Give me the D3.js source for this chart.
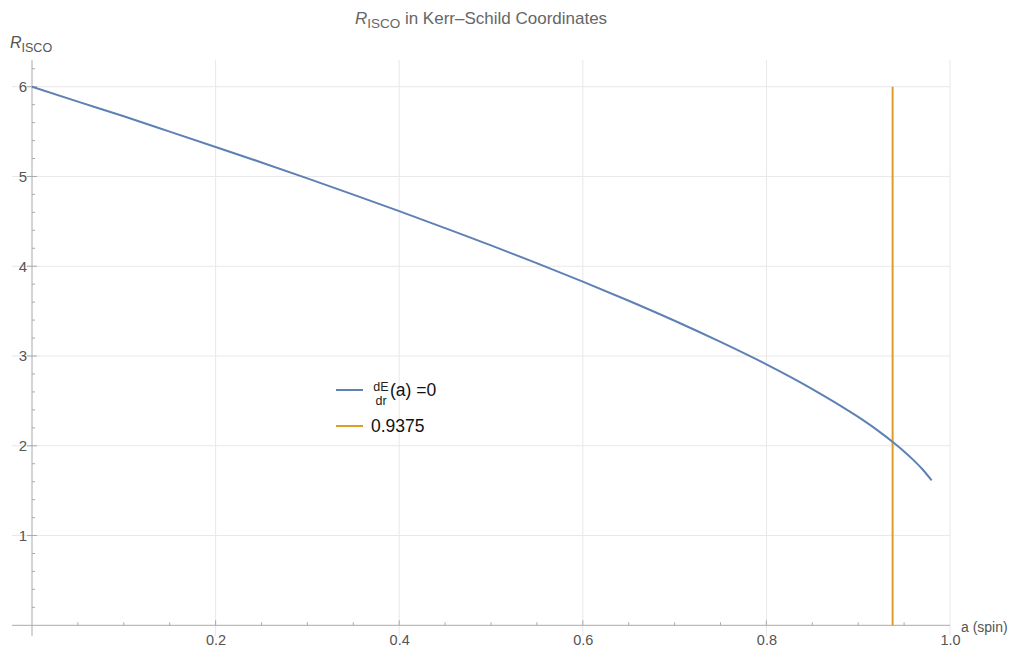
<!DOCTYPE html>
<html>
<head>
<meta charset="utf-8">
<script src="https://cdn.jsdelivr.net/npm/d3@7"></script>
<style>
  html, body { margin: 0; padding: 0; background: #fff; }
  svg { display: block; font-family: "Liberation Sans", Arial, sans-serif; }
</style>
</head>
<body>
<svg id="chart" width="1013" height="650"></svg>
<script>
// Spin values a and the ISCO radius found from dE/dr(a) = 0
const spin = [0, 0.05, 0.1, 0.15, 0.2, 0.25, 0.3, 0.35, 0.4, 0.45, 0.5, 0.55, 0.6, 0.65, 0.7, 0.75, 0.8, 0.85, 0.9, 0.92, 0.94, 0.95, 0.96, 0.97, 0.98];
const rIsco = [6.0, 5.834, 5.670, 5.500, 5.329, 5.156, 4.979, 4.798, 4.614, 4.425, 4.233, 4.033, 3.829, 3.616, 3.393, 3.157, 2.907, 2.632, 2.321, 2.180, 2.023, 1.937, 1.843, 1.738, 1.614];
// Marked spin value, drawn as a vertical line from 0 to 6
const markSpin = 0.9375;
const markRange = [0, 6];

const xTicks = [0.2, 0.4, 0.6, 0.8, 1.0];
const yTicks = [1, 2, 3, 4, 5, 6];
const legendLabels = ["(a) =0", "0.9375"];

const blue = "#5e81b5";
const orange = "#e19c24";

const svg = d3.select("#chart");
const x = d3.scaleLinear().domain([0, 1]).range([32, 950]);
const y = d3.scaleLinear().domain([0, 6]).range([625.3, 86.7]);

const xMin = -0.0218, yMin = -0.12, yMax = 6.3;

// grid lines
const grid = svg.append("g").attr("stroke", "#e8e8e8").attr("stroke-width", 1);
grid.selectAll(".gx").data(xTicks).join("line")
  .attr("x1", d => x(d)).attr("x2", d => x(d))
  .attr("y1", y(yMin)).attr("y2", y(yMax));
grid.selectAll(".gy").data(yTicks).join("line")
  .attr("y1", d => y(d)).attr("y2", d => y(d))
  .attr("x1", x(xMin)).attr("x2", x(1));

// x axis (crossing at y = 0)
const xAxis = d3.axisBottom(x).tickValues(xTicks).tickFormat(d3.format(".1f")).tickSize(0).tickPadding(9);
const gx = svg.append("g").attr("transform", `translate(0,${y(0)})`).call(xAxis);
gx.select(".domain").remove();
gx.selectAll("text").attr("fill", "#555").attr("font-size", 14.5).attr("font-family", "Liberation Sans, Arial, sans-serif");
svg.append("line").attr("x1", x(xMin)).attr("x2", x(1)).attr("y1", y(0)).attr("y2", y(0))
  .attr("stroke", "#aaa").attr("stroke-width", 1);
// minor ticks along x
svg.append("g").selectAll("line").data(d3.range(1, 20).map(i => i * 0.05)).join("line")
  .attr("x1", d => x(d)).attr("x2", d => x(d))
  .attr("y1", y(0)).attr("y2", d => y(0) - (Math.abs(d * 5 - Math.round(d * 5)) < 1e-6 ? 5 : 3))
  .attr("stroke", "#aaa");

// y axis (crossing at x = 0)
const yAxis = d3.axisLeft(y).tickValues(yTicks).tickFormat(d3.format("d")).tickSize(0).tickPadding(5);
const gy = svg.append("g").attr("transform", `translate(${x(0)},0)`).call(yAxis);
gy.select(".domain").remove();
gy.selectAll("text").attr("fill", "#555").attr("font-size", 15).attr("font-family", "Liberation Sans, Arial, sans-serif");
svg.append("line").attr("x1", x(0)).attr("x2", x(0)).attr("y1", y(yMin)).attr("y2", y(yMax))
  .attr("stroke", "#aaa").attr("stroke-width", 1);
svg.append("g").selectAll("line").data(d3.range(1, 32).map(i => i * 0.2)).join("line")
  .attr("y1", d => y(d)).attr("y2", d => y(d))
  .attr("x1", x(0)).attr("x2", d => x(0) + (Math.abs(d - Math.round(d)) < 1e-6 ? 5 : 3))
  .attr("stroke", "#aaa");
svg.append("g").selectAll("line").data(yTicks).join("line")
  .attr("y1", d => y(d)).attr("y2", d => y(d))
  .attr("x1", x(0) - 5).attr("x2", x(0))
  .attr("stroke", "#aaa");

// marked spin line
svg.append("line")
  .attr("x1", x(markSpin)).attr("x2", x(markSpin))
  .attr("y1", y(markRange[0])).attr("y2", y(markRange[1]))
  .attr("stroke", orange).attr("stroke-width", 2);

// ISCO curve
const pts = spin.map((a, i) => [a, rIsco[i]]);
svg.append("path").datum(pts)
  .attr("fill", "none").attr("stroke", blue).attr("stroke-width", 2)
  .attr("d", d3.line().x(d => x(d[0])).y(d => y(d[1])).curve(d3.curveMonotoneX));

// title
const title = svg.append("text").attr("x", 481).attr("y", 24).attr("text-anchor", "middle")
  .attr("fill", "#666").attr("font-size", 17);
title.append("tspan").attr("font-style", "italic").text("R");
title.append("tspan").attr("font-size", 13.5).attr("dy", 4).text("ISCO");
title.append("tspan").attr("dy", -4).text(" in Kerr\u2013Schild Coordinates");

// axis labels
const yl = svg.append("text").attr("x", 10).attr("y", 48).attr("fill", "#555").attr("font-size", 16);
yl.append("tspan").attr("font-style", "italic").text("R");
yl.append("tspan").attr("font-size", 12.5).attr("dy", 4).text("ISCO");
svg.append("text").attr("x", 961).attr("y", 632).attr("fill", "#555").attr("font-size", 14).text("a (spin)");

// legend
const lg = svg.append("g");
lg.append("line").attr("x1", 336).attr("x2", 363).attr("y1", 390).attr("y2", 390).attr("stroke", blue).attr("stroke-width", 2);
lg.append("line").attr("x1", 336).attr("x2", 363).attr("y1", 426).attr("y2", 426).attr("stroke", orange).attr("stroke-width", 2);
lg.append("text").attr("x", 381).attr("y", 391).attr("text-anchor", "middle").attr("font-size", 12.5).attr("fill", "#222").text("dE");
lg.append("text").attr("x", 381).attr("y", 405).attr("text-anchor", "middle").attr("font-size", 12.5).attr("fill", "#222").text("dr");
lg.append("text").attr("x", 390).attr("y", 396).attr("font-size", 17.5).attr("fill", "#111").text(legendLabels[0]);
lg.append("text").attr("x", 371).attr("y", 432).attr("font-size", 17.5).attr("fill", "#111").text(legendLabels[1]);
</script>
</body>
</html>
